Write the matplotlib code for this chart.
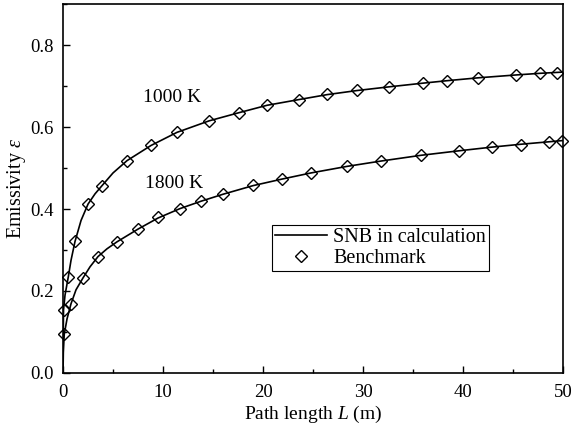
import matplotlib
matplotlib.use('Agg')
import matplotlib.pyplot as plt
from matplotlib.ticker import MultipleLocator, FormatStrFormatter

plt.rcParams['font.family'] = ['Liberation Serif', 'DejaVu Serif']
plt.rcParams['mathtext.fontset'] = 'custom'
plt.rcParams['mathtext.rm'] = 'Liberation Serif'
plt.rcParams['mathtext.it'] = 'Liberation Serif:italic'

# benchmark points
L_1000 = [0.05, 0.53, 1.2, 2.5, 3.9, 6.4, 8.8, 11.4, 14.6, 17.6, 20.4, 23.6, 26.4,
          29.4, 32.6, 36.0, 38.4, 41.5, 45.3, 47.7, 49.4]
eps_1000 = [0.154, 0.235, 0.321, 0.412, 0.457, 0.518, 0.555, 0.587, 0.615, 0.635, 0.653,
            0.666, 0.680, 0.690, 0.697, 0.707, 0.713, 0.720, 0.727, 0.731, 0.733]
L_1800 = [0.12, 0.8, 2.0, 3.5, 5.4, 7.5, 9.5, 11.7, 13.8, 16.0, 19.0, 21.9, 24.8,
          28.4, 31.8, 35.8, 39.6, 42.9, 45.8, 48.6, 49.9]
eps_1800 = [0.094, 0.169, 0.232, 0.284, 0.320, 0.351, 0.380, 0.401, 0.420, 0.436, 0.459,
            0.473, 0.489, 0.505, 0.517, 0.532, 0.541, 0.552, 0.557, 0.564, 0.566]

# SNB curves (denser near the origin)
Lc_1000 = [0, 0.02, 0.05, 0.2, 0.53, 0.8, 1.2, 1.8, 2.5, 3.2, 3.9, 5.0, 6.4, 8.8, 11.4,
           14.6, 17.6, 20.4, 23.6, 26.4, 29.4, 32.6, 36.0, 38.4, 41.5, 45.3, 47.7, 50.0]
epsc_1000 = [0, 0.09, 0.154, 0.19, 0.235, 0.275, 0.321, 0.372, 0.412, 0.437, 0.457, 0.488,
             0.518, 0.555, 0.587, 0.615, 0.635, 0.653, 0.667, 0.679, 0.689, 0.698, 0.707,
             0.713, 0.720, 0.727, 0.731, 0.734]
Lc_1800 = [0, 0.03, 0.12, 0.4, 0.8, 1.3, 2.0, 2.7, 3.5, 4.4, 5.4, 7.5, 9.5, 11.7, 13.8,
           16.0, 19.0, 21.9, 24.8, 28.4, 31.8, 35.8, 39.6, 42.9, 45.8, 48.6, 50.0]
epsc_1800 = [0, 0.05, 0.094, 0.132, 0.169, 0.203, 0.232, 0.259, 0.284, 0.303, 0.320, 0.351,
             0.378, 0.401, 0.419, 0.436, 0.457, 0.473, 0.488, 0.504, 0.517, 0.531, 0.542,
             0.551, 0.558, 0.564, 0.567]

fig = plt.figure(figsize=(5.73, 4.30), dpi=100)
ax = fig.add_axes([0.110, 0.1326, 0.8725, 0.858])

mk = dict(ls='none', marker='D', ms=6, mfc='none', mec='black', mew=1.0)
for Lc, ec, L, eps in [(Lc_1000, epsc_1000, L_1000, eps_1000),
                       (Lc_1800, epsc_1800, L_1800, eps_1800)]:
    ax.plot(Lc, ec, color='black', lw=1.2)
    ax.plot(L, eps, clip_on=False, **mk)

# legend handles
ax.plot([], [], color='black', lw=1.2, label='SNB in calculation')
ax.plot([], [], label='Benchmark', **mk)
leg = ax.legend(loc='upper left', bbox_to_anchor=(0.418, 0.401),
                fontsize=14.5, frameon=True, fancybox=False, edgecolor='black',
                framealpha=1, handlelength=2.6, borderpad=0.15, labelspacing=0.1,
                handletextpad=0.3, borderaxespad=0)
leg.get_frame().set_linewidth(0.8)

ax.text(10.9, 0.671, '1000 K', fontsize=14, ha='center', va='center')
ax.text(11.1, 0.463, '1800 K', fontsize=14, ha='center', va='center')

ax.set_xlim(0, 50)
ax.set_ylim(0, 0.9)
ax.xaxis.set_major_locator(MultipleLocator(10))
ax.xaxis.set_minor_locator(MultipleLocator(5))
ax.yaxis.set_major_locator(MultipleLocator(0.2))
ax.yaxis.set_minor_locator(MultipleLocator(0.1))
ax.yaxis.set_major_formatter(FormatStrFormatter('%.1f'))
ax.tick_params(which='both', direction='in', top=False, right=False, labelsize=13.5, width=1.0)
ax.tick_params(which='major', length=5)
ax.tick_params(which='minor', length=3)
ax.tick_params(axis='x', pad=8)
ax.tick_params(axis='y', pad=7)
for s in ax.spines.values():
    s.set_linewidth(1.2)

ax.set_xlabel('Path length $\\mathit{L}$ (m)', fontsize=14, labelpad=2)
ax.set_ylabel('Emissivity $\\mathit{\\varepsilon}$', fontsize=14.5, labelpad=1)

fig.savefig('out.png', dpi=100)
